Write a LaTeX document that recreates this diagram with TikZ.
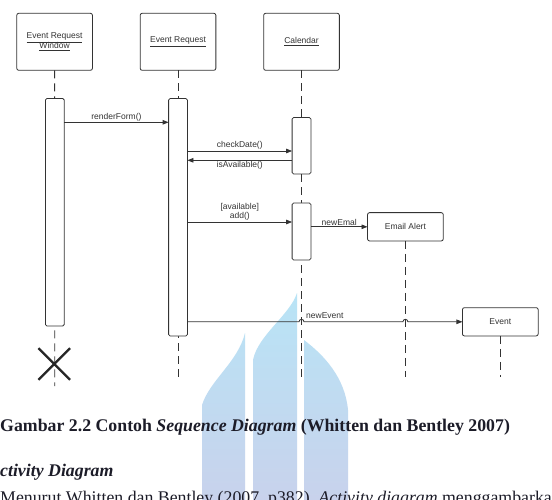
\documentclass[tikz,border=0pt]{standalone}
\usepackage{fontspec}
\setmainfont{Liberation Serif}
\newfontfamily\diagfont{Liberation Sans}
\usetikzlibrary{arrows.meta,calc}
\definecolor{ln}{HTML}{333333}
\definecolor{cap}{HTML}{1C1C28}
\definecolor{wmtop}{RGB}{184,228,246}
\definecolor{wmbot}{RGB}{200,210,236}
\begin{document}
\begin{tikzpicture}[x=1pt,y=-1pt,
  obj/.style={draw=ln,line width=0.8pt,rounded corners=2pt,fill=white,
    minimum width=75.7pt,minimum height=28.3pt,inner sep=1pt,outer sep=0pt,
    font=\diagfont\fontsize{8.5}{10}\selectfont,text=ln,align=center},
  topobj/.style={obj,minimum height=57pt},
  act/.style={draw=ln,line width=0.8pt,rounded corners=1.5pt,fill=white,
    minimum width=18.8pt,inner sep=0pt,outer sep=0pt},
  lifeline/.style={draw=ln,line width=0.8pt,dash pattern=on 8pt off 5pt},
  msg/.style={draw=ln,line width=0.8pt,-{Triangle[length=6pt,width=4.5pt]}},
  lbl/.style={font=\diagfont\fontsize{8.5}{9.7}\selectfont,text=ln,inner sep=1pt,align=center},
  captxt/.style={anchor=base west,inner sep=0pt,text=cap,font=\fontsize{17.8}{20}\selectfont}
]
\useasboundingbox (0,0) rectangle (552,500);
\fill[white] (0,0) rectangle (552,500);

% watermark
\shade[top color=wmtop,bottom color=wmbot]
  (202,500) -- (202,405) .. controls (210,380) and (238,362) .. (245,333) -- (245,500) -- cycle
  (253,500) -- (253,360) .. controls (258,335) and (290,315) .. (297,293) -- (297,500) -- cycle
  (304,500) -- (304,340) .. controls (325,356) and (345,378) .. (348,410) -- (348,500) -- cycle;

% objects
\node[topobj] (erw) at (54.6,41.8) {\underline{Event Request}\\\underline{Window}};
\node[topobj] (er) at (178,41.8) {\underline{Event Request}};
\node[topobj] (cal) at (301.5,41.8) {\underline{Calendar}};
\node[obj] (email) at (405.4,226.8) {Email Alert};
\node[obj] (event) at (500.3,321.8) {Event};

% lifeline ends
\coordinate (erwend) at (54.8,386);
\coordinate (erend) at (178,377);
\coordinate (calend) at (301.5,377);
\coordinate (emailend) at (405.4,377);
\coordinate (eventend) at (500.3,377);

\draw[lifeline] (erw.south) -- (erwend);
\draw[lifeline] (er.south) -- (erend);
\draw[lifeline] (cal.south) -- (calend);
\draw[lifeline] (email.south) -- (emailend);
\draw[lifeline] (event.south) -- (eventend);

% activations
\node[act,minimum height=227.5pt] (a1) at (54.8,212.25) {};
\node[act,minimum height=237.5pt] (a2) at (178,217.25) {};
\node[act,minimum height=56.5pt] (ca) at (301.5,145.75) {};
\node[act,minimum height=57pt] (cb) at (301.5,231.5) {};

% destruction mark
\coordinate (xc) at (54.2,364);
\draw[line width=2.2pt,draw=black!85] ($(xc)+(-15.8,-15.8)$) -- ($(xc)+(15.8,15.8)$)
  ($(xc)+(-15.8,15.8)$) -- ($(xc)+(15.8,-15.8)$);

% messages
\coordinate (m1) at (0,122.3);
\coordinate (m2) at (0,151);
\coordinate (m3) at (0,160.3);
\coordinate (m4) at (0,222);
\draw[msg] (a1.east |- m1) -- node[lbl,above] {renderForm()} (a2.west |- m1);
\draw[msg] (a2.east |- m2) -- node[lbl,above] {checkDate()} (ca.west |- m2);
\draw[msg] (ca.west |- m3) -- node[lbl,below] {isAvailable()} (a2.east |- m3);
\draw[msg] (a2.east |- m4) -- node[lbl,above] {[available]\\add()} (cb.west |- m4);
\draw[msg] (cb.east |- email.west) -- node[lbl,above] {newEmal} (email.west);
\draw[msg] (a2.east |- event.west)
  -- ($(cal.center |- event.west)+(-2.5,0)$) arc[start angle=180,end angle=0,radius=2.5pt]
  -- ($(email.center |- event.west)+(-2.5,0)$) arc[start angle=180,end angle=0,radius=2.5pt]
  -- (event.west);
\node[lbl,anchor=base west,inner sep=0pt] (nev) at (306,318.5) {newEvent};

% caption and text
\node[captxt] (capt) at (0,431.5) {\bfseries Gambar 2.2 Contoh \textit{Sequence Diagram} (Whitten dan Bentley 2007)};
\node[captxt] (head) at (0,476) {\bfseries\itshape ctivity Diagram};
\node[captxt] (para) at (0,503) {Menurut Whitten dan Bentley (2007, p382), \textit{Activity diagram} menggambarkan};
\end{tikzpicture}
\end{document}
